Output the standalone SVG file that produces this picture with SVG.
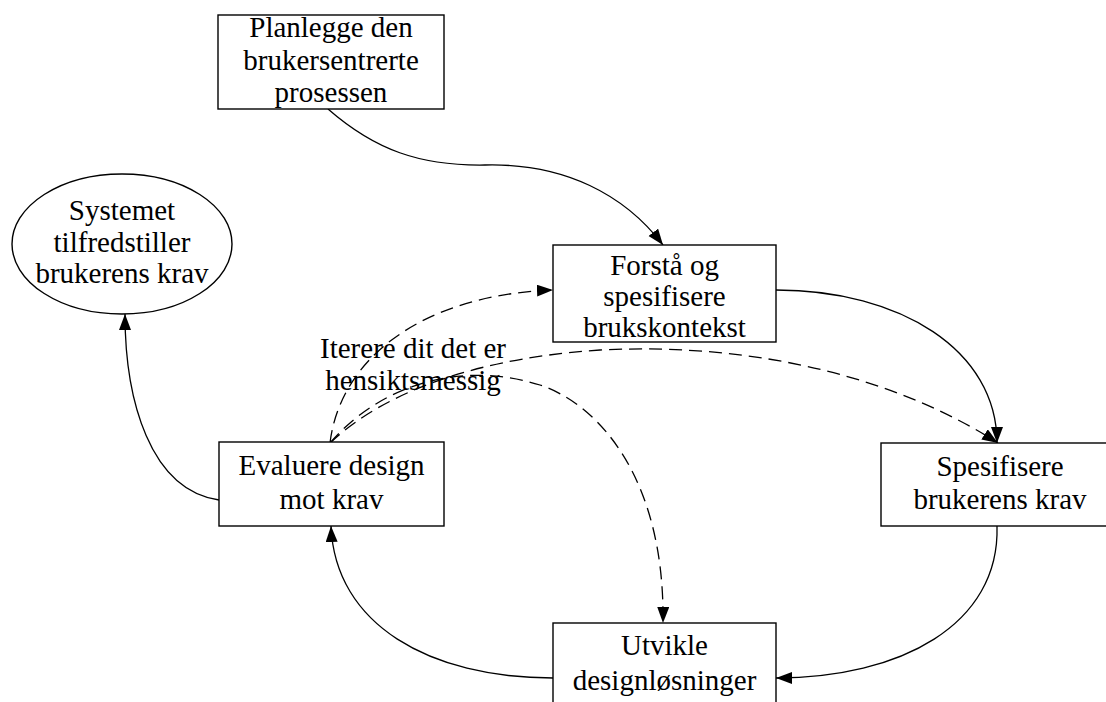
<svg xmlns="http://www.w3.org/2000/svg" width="1106" height="702" viewBox="0 0 1106 702">
  <style>
    .box { fill: #ffffff; stroke: #000000; stroke-width: 1.4; }
    .lbl { font-family: "Liberation Serif", "Times New Roman", serif; font-size: 29px; fill: #000000; text-anchor: middle; }
    .edge { fill: none; stroke: #000000; stroke-width: 1.3; }
    .dashed { stroke-dasharray: 13 7; }
  </style>
  <defs>
    <marker id="arrow" markerUnits="userSpaceOnUse" markerWidth="17" markerHeight="13" refX="16" refY="6" orient="auto">
      <path d="M0,0 L16,6 L0,12 Z" fill="#000000" stroke="none"/>
    </marker>
  </defs>

  <rect width="1106" height="702" fill="#ffffff"/>

  <!-- connectors -->
  <g id="edges">
    <path class="edge" marker-end="url(#arrow)" d="M328,109 C375,150 420,166 485,165 C565,163 625,195 663,245"/>
    <path class="edge" marker-end="url(#arrow)" d="M776,290 C900,290 997,350 997,443"/>
    <path class="edge" marker-end="url(#arrow)" d="M997,526 C1000,625 900,678 776,678"/>
    <path class="edge" marker-end="url(#arrow)" d="M553,678 C430,678 335,625 331,526"/>
    <path class="edge" marker-end="url(#arrow)" d="M219,500 C150,490 125,400 125,314"/>
    <path class="edge dashed" marker-end="url(#arrow)" d="M330,443 C340,360 420,295 553,290"/>
    <path class="edge dashed" marker-end="url(#arrow)" d="M330,443 C370,405 450,360 600,350 C760,342 900,380 998,443"/>
    <path class="edge dashed" marker-end="url(#arrow)" d="M330,443 C380,385 460,360 540,385 C600,405 665,480 663,623"/>
  </g>

  <g id="planlegge">
    <rect class="box" x="218" y="15" width="226" height="94"/>
    <text class="lbl" x="331" y="37">Planlegge den</text>
    <text class="lbl" x="331" y="70">brukersentrerte</text>
    <text class="lbl" x="331" y="102">prosessen</text>
  </g>

  <g id="forsta">
    <rect class="box" x="553" y="245" width="223" height="97"/>
    <text class="lbl" x="664.5" y="275">Forstå og</text>
    <text class="lbl" x="664.5" y="306">spesifisere</text>
    <text class="lbl" x="664.5" y="337">brukskontekst</text>
  </g>

  <g id="spesifisere">
    <rect class="box" x="881" y="443" width="238" height="83"/>
    <text class="lbl" x="1000" y="476">Spesifisere</text>
    <text class="lbl" x="1000" y="509">brukerens krav</text>
  </g>

  <g id="utvikle">
    <rect class="box" x="553" y="623" width="223" height="90"/>
    <text class="lbl" x="664.5" y="655">Utvikle</text>
    <text class="lbl" x="664.5" y="690">designløsninger</text>
  </g>

  <g id="evaluere">
    <rect class="box" x="219" y="442" width="225" height="84"/>
    <text class="lbl" x="331.5" y="475">Evaluere design</text>
    <text class="lbl" x="331.5" y="509">mot krav</text>
  </g>

  <g id="systemet">
    <ellipse class="box" cx="122" cy="244" rx="110" ry="70"/>
    <text class="lbl" x="122" y="220">Systemet</text>
    <text class="lbl" x="122" y="252">tilfredstiller</text>
    <text class="lbl" x="122" y="283">brukerens krav</text>
  </g>

  <g id="iterere">
    <text class="lbl" x="413" y="358">Iterere dit det er</text>
    <text class="lbl" x="413" y="390">hensiktsmessig</text>
  </g>
</svg>
